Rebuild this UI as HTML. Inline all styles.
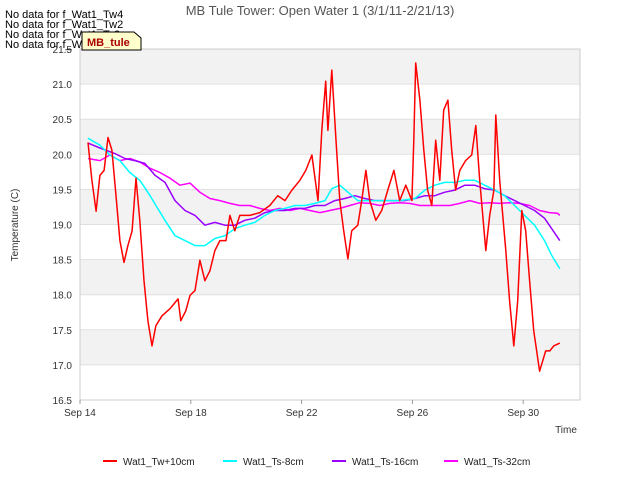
<!DOCTYPE html>
<html><head><meta charset="utf-8"><style>
body{margin:0;background:#fff;font-family:"Liberation Sans","DejaVu Sans",sans-serif;}
svg text{font-family:"Liberation Sans","DejaVu Sans",sans-serif;}
</style></head><body>
<svg id="chart" width="640" height="480" xmlns="http://www.w3.org/2000/svg">
<rect width="640" height="480" fill="#fff"/>
<g id="bands"></g>
<g id="grid"></g>
<rect x="80" y="49" width="500" height="351" fill="none" stroke="#ccc"/>
<g id="yticks"></g><g id="xticks"></g>
<g id="series"></g>
<text x="320" y="15" text-anchor="middle" font-size="13" fill="#555">MB Tule Tower: Open Water 1 (3/1/11-2/21/13)</text>
<text x="18" y="225" text-anchor="middle" font-size="10" fill="#333" transform="rotate(-90 18 225)">Temperature (C)</text>
<text x="566" y="433" text-anchor="middle" font-size="10" fill="#333">Time</text>
<g font-size="11" fill="#000">
<text x="5" y="18">No data for f_Wat1_Tw4</text>
<text x="5" y="28">No data for f_Wat1_Tw2</text>
<text x="5" y="38">No data for f_Wat1_Ts2</text>
<text x="5" y="48">No data for f_Wat1_Ts4</text>
</g>
<g>
<path d="M82 32 L134 32 L141 38 L141 50 L82 50 Z" fill="#ffffcc" stroke="#000"/>
<text x="87" y="46" font-size="11" font-weight="bold" fill="#aa0000">MB_tule</text>
</g>
<g id="legend"></g>
</svg>
<script>
const yTicks=[16.5,17.0,17.5,18.0,18.5,19.0,19.5,20.0,20.5,21.0,21.5];
const xTickDays=[0,4,8,12,16];
const xTickLabels=["Sep 14","Sep 18","Sep 22","Sep 26","Sep 30"];
const seriesNames=["Wat1_Tw+10cm","Wat1_Ts-8cm","Wat1_Ts-16cm","Wat1_Ts-32cm"];
const seriesColors=["#ff0000","#00ffff","#9900ff","#ff00ff"];
const twDays=[0.29,0.43,0.58,0.72,0.87,1.01,1.15,1.30,1.44,1.59,1.73,1.88,2.02,2.16,2.31,2.45,2.6,2.74,2.96,3.25,3.54,3.64,3.82,3.97,4.15,4.33,4.51,4.69,4.87,5.05,5.27,5.41,5.59,5.77,6.13,6.49,6.85,7.14,7.4,7.65,7.94,8.15,8.37,8.59,8.73,8.87,8.95,9.09,9.24,9.38,9.52,9.67,9.81,10.03,10.17,10.32,10.46,10.68,10.89,11.11,11.33,11.54,11.76,11.98,12.05,12.12,12.27,12.41,12.55,12.7,12.84,12.99,13.13,13.28,13.42,13.56,13.71,13.92,14.14,14.29,14.43,14.65,14.79,14.94,15.01,15.15,15.37,15.51,15.66,15.8,15.95,16.09,16.23,16.38,16.59,16.81,16.96,17.1,17.32];
const twVals=[20.17,19.63,19.19,19.7,19.77,20.24,20.06,19.41,18.77,18.46,18.7,18.91,19.66,19.06,18.2,17.63,17.27,17.56,17.7,17.8,17.94,17.63,17.77,17.99,18.06,18.49,18.2,18.34,18.63,18.77,18.77,19.13,18.91,19.13,19.13,19.17,19.27,19.41,19.34,19.49,19.63,19.77,19.99,19.34,20.34,21.04,20.34,21.2,20.2,19.34,18.91,18.51,18.91,18.99,19.34,19.77,19.34,19.06,19.2,19.49,19.77,19.34,19.56,19.34,20.2,21.3,20.77,20.06,19.49,19.27,20.2,19.63,20.63,20.77,20.06,19.49,19.77,19.91,19.99,20.41,19.63,18.63,19.13,19.49,20.56,19.63,18.63,17.91,17.27,17.91,19.2,18.91,18.2,17.49,16.91,17.2,17.2,17.27,17.31];
const ts8Days=[0.29,0.72,1.08,1.44,1.8,2.16,2.53,2.74,3.07,3.43,3.79,4.15,4.51,4.87,5.23,5.59,5.95,6.31,6.67,7.03,7.4,7.76,8.12,8.48,8.84,9.09,9.38,9.67,10.03,10.46,11.0,11.54,12.09,12.45,12.81,13.17,13.53,13.89,14.25,14.61,14.97,15.33,15.69,16.05,16.41,16.77,17.03,17.32];
const ts8Vals=[20.23,20.13,19.99,19.91,19.74,19.63,19.41,19.27,19.06,18.84,18.77,18.7,18.7,18.8,18.84,18.94,18.99,19.03,19.13,19.2,19.23,19.27,19.27,19.3,19.34,19.51,19.56,19.46,19.34,19.34,19.34,19.34,19.37,19.49,19.56,19.6,19.6,19.63,19.63,19.56,19.49,19.41,19.27,19.13,18.99,18.77,18.56,18.37];
const ts16Days=[0.29,0.72,1.26,1.62,1.98,2.34,2.71,3.07,3.43,3.79,4.15,4.51,4.87,5.23,5.59,5.95,6.31,6.67,7.03,7.4,7.76,8.12,8.48,8.84,9.2,9.56,9.92,10.28,10.64,11.18,11.72,12.09,12.45,12.81,13.17,13.53,13.89,14.25,14.61,14.97,15.33,15.69,16.05,16.41,16.77,17.03,17.32];
const ts16Vals=[20.16,20.09,20.01,19.94,19.91,19.87,19.7,19.6,19.34,19.2,19.13,18.99,19.03,18.99,18.99,19.06,19.09,19.17,19.2,19.2,19.23,19.23,19.27,19.27,19.34,19.37,19.41,19.37,19.34,19.34,19.34,19.37,19.41,19.41,19.46,19.49,19.56,19.56,19.51,19.49,19.41,19.34,19.27,19.2,19.09,18.94,18.77];
const ts32Days=[0.29,0.72,1.08,1.44,1.8,2.16,2.53,2.89,3.25,3.61,3.97,4.33,4.69,5.05,5.41,5.77,6.13,6.49,6.85,7.22,7.58,7.94,8.3,8.66,9.02,9.38,9.74,10.1,10.46,10.82,11.18,11.54,11.9,12.27,12.63,12.99,13.35,13.71,14.07,14.43,14.79,15.15,15.51,15.87,16.23,16.59,16.95,17.24,17.32];
const ts32Vals=[19.94,19.91,19.99,19.91,19.94,19.89,19.8,19.74,19.66,19.56,19.59,19.46,19.37,19.34,19.3,19.27,19.27,19.23,19.2,19.23,19.2,19.23,19.2,19.17,19.2,19.23,19.27,19.31,19.3,19.27,19.3,19.31,19.3,19.27,19.27,19.27,19.27,19.3,19.34,19.3,19.31,19.3,19.31,19.3,19.27,19.2,19.17,19.16,19.13];

const NS="http://www.w3.org/2000/svg";
const X0=80,X1=580,D0=0,D1=18.05,Y0=400,Y1=49,V0=16.5,V1=21.5;
const xs=d=>X0+(d-D0)/(D1-D0)*(X1-X0);
const ys=v=>Y0-(v-V0)/(V1-V0)*(Y0-Y1);
function mk(tag,attrs,parent){const e=document.createElementNS(NS,tag);for(const k in attrs)e.setAttribute(k,attrs[k]);parent.appendChild(e);return e;}
const bands=document.getElementById('bands'),grid=document.getElementById('grid'),yt=document.getElementById('yticks'),xt=document.getElementById('xticks');
for(let i=0;i<yTicks.length-1;i++){
  if(i%2===1){const r=mk('rect',{x:X0,y:ys(yTicks[i+1]),width:X1-X0,height:ys(yTicks[i])-ys(yTicks[i+1]),fill:'#f2f2f2'},bands);
  
  }
}
yTicks.forEach(v=>{
  const l=mk('line',{x1:X0,x2:X1,y1:ys(v),y2:ys(v),stroke:'#e0e0e0'},grid);
  
  
  const t=mk('text',{x:X0-8,y:ys(v)+4,'text-anchor':'end','font-size':'10',fill:'#333'},yt);
  t.textContent=v.toFixed(1);
  
  
});
xTickDays.forEach((d,i)=>{
  const l=mk('line',{x1:xs(d),x2:xs(d),y1:Y0,y2:Y0+4,stroke:'#999'},xt);
  
  
  const t=mk('text',{x:xs(d),y:Y0+16,'text-anchor':'middle','font-size':'10',fill:'#333'},xt);
  t.textContent=xTickLabels[i];
  
  
});
const sg=document.getElementById('series');
const all=[[ts32Days,ts32Vals,3],[ts16Days,ts16Vals,2],[ts8Days,ts8Vals,1],[twDays,twVals,0]];
all.forEach(([ds,vs,ci])=>{
  const p=mk('polyline',{points:ds.map((d,i)=>xs(d).toFixed(1)+','+ys(vs[i]).toFixed(1)).join(' '),fill:'none',stroke:seriesColors[ci],'stroke-width':'1.5','stroke-linejoin':'round'},sg);
  
  
});
const lg=document.getElementById('legend');
const lx=[103,223,332,444];
seriesNames.forEach((n,i)=>{
  const g=mk('g',{},lg);
  
  
  mk('line',{x1:lx[i],x2:lx[i]+14,y1:461,y2:461,stroke:seriesColors[i],'stroke-width':'2'},g);
  const t=mk('text',{x:lx[i]+20,y:465,'font-size':'10',fill:'#222'},g);
  t.textContent=n;
});
</script>
</body></html>
